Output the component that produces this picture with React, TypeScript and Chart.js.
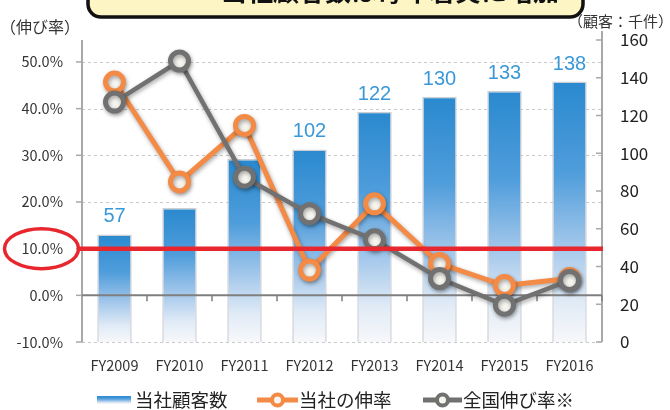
import React, { useEffect, useRef } from "react";
import { Chart, registerables } from "chart.js";

Chart.register(...registerables);

const categories = ["FY2009", "FY2010", "FY2011", "FY2012", "FY2013", "FY2014", "FY2015", "FY2016"];
const customers = [57, 71, 97, 102, 122, 130, 133, 138];
const companyGrowth = [45.7, 24.3, 36.4, 5.4, 19.6, 6.8, 2.1, 3.6];
const nationalGrowth = [41.4, 50.2, 25.3, 17.5, 11.9, 3.6, -2.1, 3.2];
const labeledBars = [true, false, false, true, true, true, true, true];
const leftTicks = [-10, 0, 10, 20, 30, 40, 50];
const rightTicks = [0, 20, 40, 60, 80, 100, 120, 140, 160];
const targetRate = 10;
const legendLabels = ["当社顧客数", "当社の伸率", "全国伸び率※"];
const leftAxisTitle = "（伸び率）";
const rightAxisTitle = "（顧客：千件）";
// NOTE: the reference's headline is cut off at the top edge and cannot be read;
// this wording is a placeholder guess, drawn so that only the bottom of the glyphs shows.
const headline = "当社顧客数は毎年着実に増加";

const ORANGE = "#F38A45";
const GRAY = "#717171";
const BLUE_TEXT = "#3A98D8";
const RED = "#E8262D";
const JP = '"Noto Sans CJK JP", "Noto Sans", sans-serif';

function barGradient(ctx: CanvasRenderingContext2D, top: number, bottom: number) {
  const g = ctx.createLinearGradient(0, top, 0, bottom);
  g.addColorStop(0, "#2A89CF");
  g.addColorStop(0.35, "#4F9DDB");
  g.addColorStop(0.65, "#A8CAEC");
  g.addColorStop(0.85, "#E1EBF6");
  g.addColorStop(1, "#F7F8FA");
  return g;
}

const decorPlugin = {
  id: "decor",
  beforeDatasetsDraw(chart: any) {
    const { ctx, chartArea: a, scales } = chart;
    const y = scales.y;
    const y1 = scales.y1;
    ctx.save();
    ctx.strokeStyle = "#C9C9C9";
    ctx.lineWidth = 1;
    ctx.setLineDash([3, 3]);
    leftTicks.forEach((v) => {
      if (v === 0) return;
      const py = Math.round(y.getPixelForValue(v)) + 0.5;
      ctx.beginPath();
      ctx.moveTo(a.left, py);
      ctx.lineTo(a.right, py);
      ctx.stroke();
    });
    ctx.setLineDash([]);
    ctx.strokeStyle = "#A8A8A8";
    ctx.lineWidth = 2;
    ctx.beginPath();
    ctx.moveTo(a.left, a.top);
    ctx.lineTo(a.left, a.bottom);
    ctx.stroke();
    ctx.lineWidth = 1.5;
    leftTicks.forEach((v) => {
      const py = y.getPixelForValue(v);
      ctx.beginPath();
      ctx.moveTo(a.left - 6, py);
      ctx.lineTo(a.left, py);
      ctx.stroke();
    });
    ctx.lineWidth = 2;
    ctx.beginPath();
    ctx.moveTo(a.right, a.top - 9);
    ctx.lineTo(a.right, a.bottom);
    ctx.stroke();
    ctx.lineWidth = 1.5;
    rightTicks.forEach((v) => {
      const py = y1.getPixelForValue(v);
      ctx.beginPath();
      ctx.moveTo(a.right - 6, py);
      ctx.lineTo(a.right, py);
      ctx.stroke();
    });
    ctx.restore();
  },
  beforeDatasetDraw(chart: any, args: any) {
    const ctx = chart.ctx;
    ctx.save();
    if (args.meta.type === "line") {
      ctx.shadowColor = "rgba(0,0,0,0.35)";
      ctx.shadowBlur = 4;
      ctx.shadowOffsetX = 1;
      ctx.shadowOffsetY = 2;
    }
  },
  afterDatasetDraw(chart: any, args: any) {
    const { ctx, chartArea: a, scales } = chart;
    ctx.restore();
    if (args.meta.type === "bar") {
      const py = scales.y.getPixelForValue(0);
      ctx.save();
      ctx.strokeStyle = "#7F7F7F";
      ctx.lineWidth = 2;
      ctx.beginPath();
      ctx.moveTo(a.left, py);
      ctx.lineTo(a.right, py);
      ctx.stroke();
      const step = (a.right - a.left) / categories.length;
      ctx.lineWidth = 1.5;
      for (let i = 1; i <= categories.length; i++) {
        const px = a.left + step * i;
        ctx.beginPath();
        ctx.moveTo(px, py);
        ctx.lineTo(px, py + 6);
        ctx.stroke();
      }
      ctx.restore();
    }
  },
  afterDatasetsDraw(chart: any) {
    const ctx = chart.ctx;
    const meta = chart.getDatasetMeta(0);
    ctx.save();
    ctx.fillStyle = BLUE_TEXT;
    ctx.font = '20px "Liberation Sans", Arial, sans-serif';
    ctx.textAlign = "center";
    ctx.textBaseline = "alphabetic";
    meta.data.forEach((el: any, i: number) => {
      if (!labeledBars[i]) return;
      ctx.fillText(String(customers[i]), el.x, el.y - 12);
    });
    ctx.restore();
  },
  afterDraw(chart: any) {
    const { ctx, chartArea: a, scales } = chart;
    ctx.save();
    const ry = scales.y.getPixelForValue(targetRate);
    ctx.strokeStyle = RED;
    ctx.lineWidth = 4.5;
    ctx.beginPath();
    ctx.moveTo(a.left - 3, ry);
    ctx.lineTo(a.right + 1, ry);
    ctx.stroke();
    ctx.lineWidth = 3.5;
    ctx.beginPath();
    ctx.ellipse(41.5, ry, 37, 20, 0, 0, Math.PI * 2);
    ctx.stroke();

    ctx.fillStyle = "#333333";
    ctx.font = `16px ${JP}`;
    ctx.textBaseline = "middle";
    ctx.textAlign = "left";
    ctx.fillText(leftAxisTitle, 0, 27);
    ctx.font = `15px ${JP}`;
    ctx.fillText(rightAxisTitle, 568, 21);

    ctx.fillStyle = "#FDF6C4";
    ctx.strokeStyle = "#111111";
    ctx.lineWidth = 3.5;
    ctx.beginPath();
    (ctx as any).roundRect(88, -30, 495, 47, 13);
    ctx.fill();
    ctx.stroke();
    ctx.fillStyle = "#111111";
    ctx.font = `bold 26px ${JP}`;
    ctx.textAlign = "center";
    ctx.textBaseline = "alphabetic";
    ctx.fillText(headline, 390, 1);

    const ly = 400;
    const sw = barGradient(ctx, ly - 4, ly + 4);
    ctx.fillStyle = sw;
    ctx.fillRect(97, ly - 4, 34, 8);
    ctx.fillStyle = "#222222";
    ctx.font = `18.5px ${JP}`;
    ctx.textAlign = "left";
    ctx.textBaseline = "middle";
    ctx.fillText(legendLabels[0], 135, ly);

    const marker = (x0: number, x1: number, color: string) => {
      ctx.strokeStyle = color;
      ctx.lineWidth = 5;
      ctx.beginPath();
      ctx.moveTo(x0, ly);
      ctx.lineTo(x1, ly);
      ctx.stroke();
      ctx.fillStyle = "#F7F5F0";
      ctx.lineWidth = 4;
      ctx.beginPath();
      ctx.arc((x0 + x1) / 2, ly, 5.5, 0, Math.PI * 2);
      ctx.fill();
      ctx.stroke();
    };
    marker(257, 298, ORANGE);
    ctx.fillStyle = "#222222";
    ctx.fillText(legendLabels[1], 299, ly);
    marker(423, 462, GRAY);
    ctx.fillStyle = "#222222";
    ctx.fillText(legendLabels[2], 463, ly);
    ctx.restore();
  },
};

export default function App() {
  const ref = useRef<HTMLCanvasElement | null>(null);

  useEffect(() => {
    if (!ref.current) return;
    const chart = new Chart(ref.current, {
      type: "bar",
      data: {
        labels: categories,
        datasets: [
          {
            type: "bar",
            label: legendLabels[0],
            data: customers,
            yAxisID: "y1",
            order: 3,
            categoryPercentage: 1,
            barPercentage: 0.53,
            borderColor: "rgba(200,202,208,0.9)",
            borderWidth: 1.5,
            backgroundColor: (c: any) => {
              const chart = c.chart;
              const area = chart.chartArea;
              if (!area || c.type !== "data") return "#2A89CF";
              const top = chart.scales.y1.getPixelForValue(c.raw as number);
              return barGradient(chart.ctx, top, area.bottom);
            },
          } as any,
          {
            type: "line",
            label: legendLabels[1],
            data: companyGrowth,
            yAxisID: "y",
            order: 2,
            borderColor: ORANGE,
            borderWidth: 5,
            tension: 0,
            pointRadius: 9,
            pointHoverRadius: 9,
            pointBorderWidth: 5,
            pointBackgroundColor: "#F7F5F0",
            pointBorderColor: ORANGE,
          } as any,
          {
            type: "line",
            label: legendLabels[2],
            data: nationalGrowth,
            yAxisID: "y",
            order: 1,
            borderColor: GRAY,
            borderWidth: 4.5,
            tension: 0,
            pointRadius: 9,
            pointHoverRadius: 9,
            pointBorderWidth: 5,
            pointBackgroundColor: "#F7F5F0",
            pointBorderColor: GRAY,
          } as any,
        ],
      },
      options: {
        responsive: false,
        animation: false,
        layout: { padding: { top: 40, left: 0, right: 0, bottom: 0 } },
        plugins: { legend: { display: false }, tooltip: { enabled: false } },
        scales: {
          x: {
            grid: { display: false, drawTicks: false },
            border: { display: false },
            ticks: { color: "#333333", font: { family: JP, size: 14.5 }, padding: 15, maxRotation: 0 },
            afterFit: (s: any) => {
              s.height = 68;
            },
          },
          y: {
            position: "left",
            min: -10,
            max: 54.7,
            grid: { display: false, drawTicks: false },
            border: { display: false },
            afterBuildTicks: (s: any) => {
              s.ticks = leftTicks.map((v) => ({ value: v }));
            },
            ticks: {
              color: "#333333",
              font: { family: JP, size: 14.5 },
              padding: 19,
              callback: (v: any) => `${Number(v).toFixed(1)}%`,
            },
            afterFit: (s: any) => {
              s.width = 82;
            },
          },
          y1: {
            position: "right",
            min: 0,
            max: 160,
            grid: { display: false, drawTicks: false },
            border: { display: false },
            afterBuildTicks: (s: any) => {
              s.ticks = rightTicks.map((v) => ({ value: v }));
            },
            ticks: {
              color: "#222222",
              font: { family: JP, size: 17 },
              padding: 18,
            },
            afterFit: (s: any) => {
              s.width = 68;
            },
          },
        },
      } as any,
      plugins: [decorPlugin],
    });
    return () => chart.destroy();
  }, []);

  return (
    <div style={{ position: "fixed", left: 0, top: 0, width: 670, height: 410, background: "#fff" }}>
      <canvas ref={ref} width={670} height={410} style={{ display: "block", width: 670, height: 410 }} />
    </div>
  );
}
